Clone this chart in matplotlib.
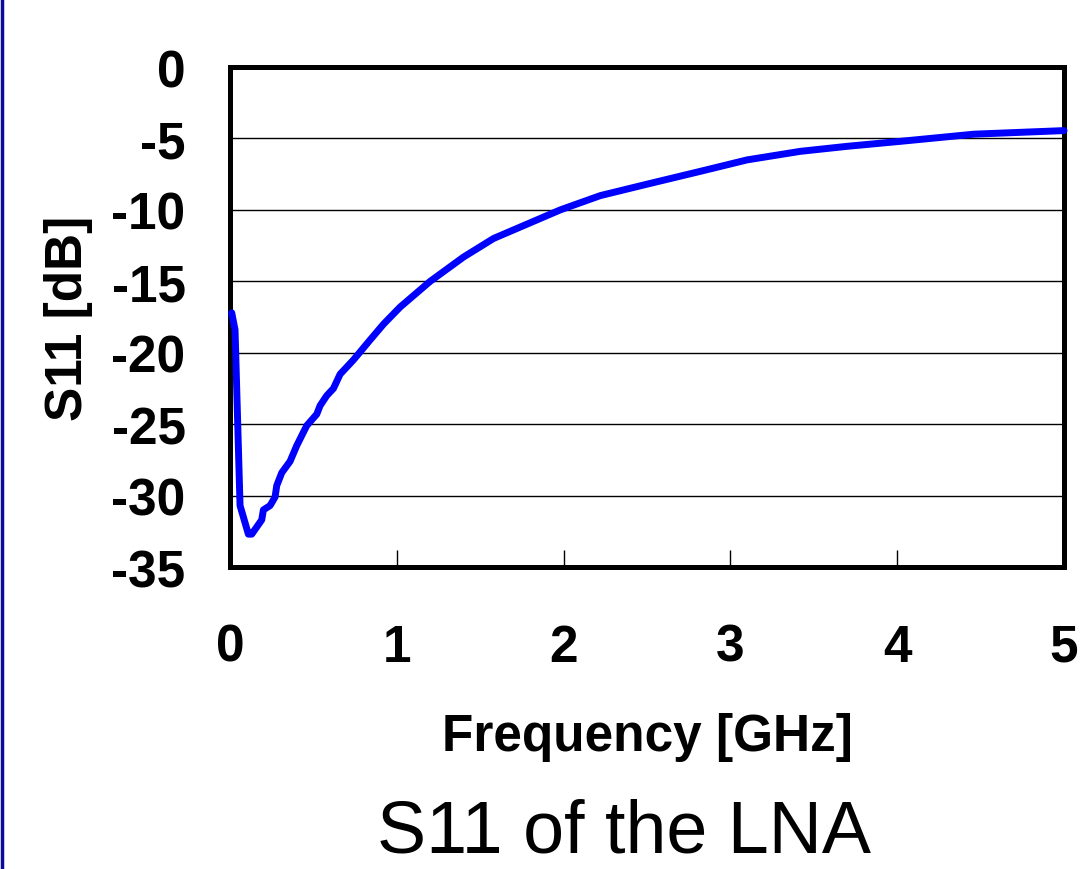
import matplotlib
matplotlib.use("Agg")
import matplotlib.pyplot as plt
from matplotlib.lines import Line2D

# S11 of the LNA
freq_ghz = [0.01, 0.03, 0.06, 0.11, 0.13, 0.19, 0.20, 0.24, 0.27, 0.28, 0.31,
            0.36, 0.40, 0.46, 0.52, 0.54, 0.58, 0.62, 0.66, 0.74, 0.84, 0.92,
            1.02, 1.2, 1.4, 1.58, 1.78, 1.98, 2.22, 2.5, 2.82, 3.1, 3.42, 3.7,
            4.02, 4.46, 5.0]
s11_db = [-17.2, -18.4, -30.7, -32.7, -32.7, -31.7, -31.0, -30.7, -30.1, -29.3,
          -28.4, -27.6, -26.5, -25.1, -24.3, -23.7, -23.0, -22.5, -21.5, -20.5,
          -19.1, -18.0, -16.8, -15.0, -13.3, -12.0, -11.0, -10.0, -9.0, -8.2,
          -7.3, -6.5, -5.9, -5.55, -5.2, -4.7, -4.45]

x_ticks = [0, 1, 2, 3, 4, 5]
y_ticks = [0, -5, -10, -15, -20, -25, -30, -35]

plt.rcParams['font.family'] = ['Liberation Sans', 'DejaVu Sans']

fig = plt.figure(figsize=(10.82, 8.70), dpi=100)
ax = fig.add_axes([0.2126, 0.3471, 0.7708, 0.5747])

for y in y_ticks[1:-1]:
    ax.axhline(y, color='black', lw=1.0, zorder=1)

ax.plot(freq_ghz, s11_db, color='#0000ff', lw=5, solid_joinstyle='round',
        solid_capstyle='round', zorder=3, clip_on=False)

ax.set_xlim(0, 5)
ax.set_ylim(-35, 0)
ax.set_xticks(x_ticks)
ax.set_yticks(y_ticks)
ax.set_xticklabels([str(t) for t in x_ticks], fontsize=37, fontweight='bold')
ax.set_yticklabels([str(t) for t in y_ticks], fontsize=37, fontweight='bold')
ax.tick_params(axis='x', direction='in', length=12, width=1, pad=40)
ax.tick_params(axis='y', length=0, pad=32)

for s in ax.spines.values():
    s.set_linewidth(3.6)
    s.set_color('black')

ax.set_xlabel('Frequency [GHz]', fontsize=37, fontweight='bold', va='top')
ax.xaxis.set_label_coords(0.5, -0.29)
ax.set_ylabel('S11 [dB]', fontsize=37, fontweight='bold')
ax.yaxis.set_label_coords(-0.164, 0.5)

fig.text(0.577, 0.003, 'S11 of the LNA', fontsize=53, ha='center', va='bottom')

# blue bar on the left edge of the slide
fig.add_artist(Line2D([0.0015, 0.0015], [0, 1], color='#0a0a9a', lw=2.5,
                      transform=fig.transFigure))

fig.savefig('out.png', dpi=100)
